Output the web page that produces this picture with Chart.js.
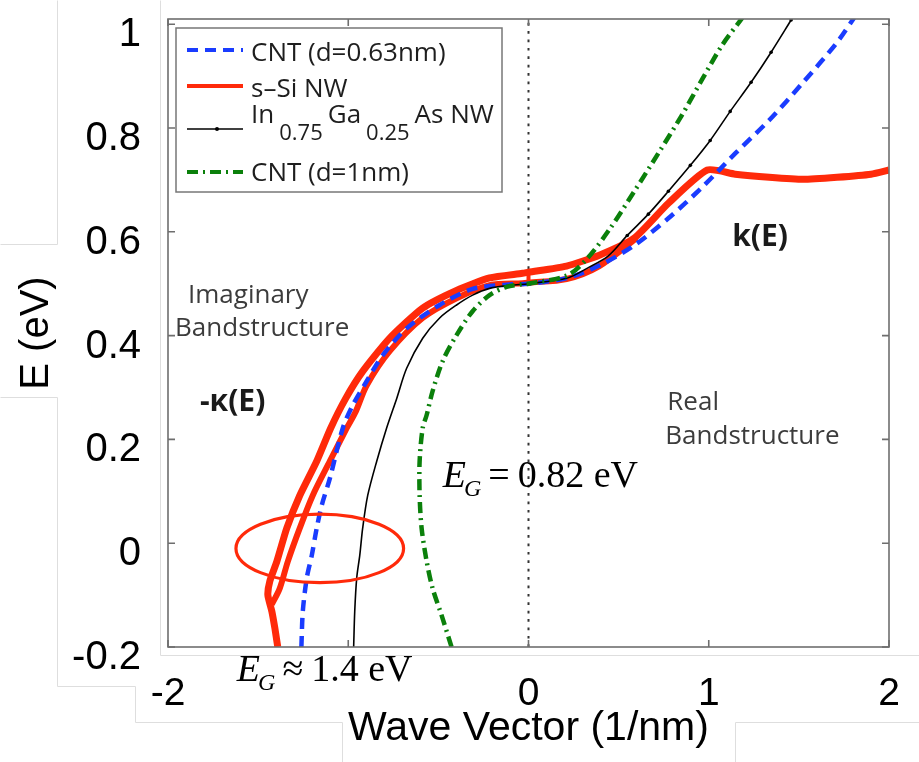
<!DOCTYPE html>
<html>
<head>
<meta charset="utf-8">
<script src="https://cdn.jsdelivr.net/npm/chart.js@4.4.1/dist/chart.umd.min.js"></script>
<style>
  html, body { margin: 0; padding: 0; background: #fff; }
</style>
</head>
<body>
<canvas id="bandChart" width="919" height="762"></canvas>
<script>
//-------------------------------DATA----------------------------------------
// wave vector (1/nm) and energy (eV)
// negative k = imaginary branch (-kappa), positive k = real branch

const cnt063K = [-1.26, -1.252, -1.23, -1.202, -1.175, -1.147, -1.102, -1.03, -0.975, -0.898, -0.809, -0.676, -0.493, -0.31, -0.122, 0, 0.216, 0.399, 0.587, 0.776, 0.964, 1.147, 1.335, 1.524, 1.712, 1.806];
const cnt063E = [-0.2, -0.131, -0.067, -0.023, 0.029, 0.073, 0.125, 0.222, 0.266, 0.312, 0.362, 0.414, 0.459, 0.49, 0.498, 0.5, 0.511, 0.536, 0.574, 0.626, 0.686, 0.751, 0.815, 0.888, 0.965, 1.012];

const siOuterK = [-1.391, -1.407, -1.424, -1.446, -1.435, -1.396, -1.341, -1.269, -1.175, -1.097, -1.014, -0.92, -0.77, -0.587, -0.399, -0.216, -0.033, 0, 0.211, 0.393, 0.587, 0.776, 0.992, 1.147, 1.335, 1.524, 1.712, 1.9, 2.0];
const siOuterE = [-0.2, -0.164, -0.131, -0.1, -0.073, -0.035, 0.029, 0.092, 0.158, 0.222, 0.279, 0.331, 0.395, 0.453, 0.487, 0.511, 0.52, 0.522, 0.534, 0.555, 0.588, 0.655, 0.719, 0.711, 0.705, 0.701, 0.705, 0.711, 0.719];

const siInnerK = [-1.424, -1.38, -1.335, -1.269, -1.197, -1.102, -1.008, -0.958, -0.898, -0.77, -0.587, -0.399, -0.216, -0.033, 0, 0.211, 0.393, 0.6];
const siInnerE = [-0.118, -0.087, -0.035, 0.029, 0.092, 0.158, 0.222, 0.254, 0.304, 0.37, 0.434, 0.472, 0.497, 0.501, 0.502, 0.509, 0.534, 0.588];

const siStepK = [0, 0];
const siStepE = [0.502, 0.522];

const ingaasK = [-0.97, -0.964, -0.953, -0.936, -0.92, -0.892, -0.842, -0.787, -0.731, -0.676, -0.587, -0.493, -0.399, -0.31, -0.216, -0.1, 0, 0.216, 0.327, 0.441, 0.548, 0.665, 0.776, 0.898, 1.008, 1.119, 1.235, 1.346, 1.457];
const ingaasE = [-0.2, -0.131, -0.067, -0.023, 0.029, 0.092, 0.158, 0.222, 0.279, 0.337, 0.395, 0.434, 0.459, 0.478, 0.491, 0.497, 0.5, 0.511, 0.53, 0.553, 0.593, 0.634, 0.678, 0.728, 0.776, 0.832, 0.888, 0.946, 1.008];

const cnt1K = [-0.427, -0.482, -0.532, -0.565, -0.593, -0.604, -0.604, -0.587, -0.565, -0.532, -0.476, -0.399, -0.31, -0.216, -0.122, -0.033, 0, 0.216, 0.327, 0.454, 0.587, 0.72, 0.848, 0.964, 1.075, 1.186];
const cnt1E = [-0.2, -0.139, -0.087, -0.035, 0.029, 0.092, 0.158, 0.222, 0.247, 0.293, 0.351, 0.401, 0.447, 0.478, 0.494, 0.499, 0.5, 0.516, 0.549, 0.607, 0.678, 0.751, 0.823, 0.894, 0.96, 1.012];

const zeroK = [0, 0];
const zeroE = [-0.2, 1.01];

const xTicks = [-2, -1, 0, 1, 2];
const xTickLabels = ['-2', '', '0', '1', '2'];
const yTicks = [-0.2, 0, 0.2, 0.4, 0.6, 0.8, 1];
const yTickLabels = ['-0.2', '0', '0.2', '0.4', '0.6', '0.8', '1'];

//-------------------------------STYLE----------------------------------------

const RED = '#ff2a0a';
const BLUE = '#1a3cff';
const GREEN = '#0b800b';
const SANS = '"Liberation Sans", Arial, sans-serif';
const HUMAN = '"Open Sans", "Noto Sans", sans-serif';
const SERIF = '"Liberation Serif", "Times New Roman", serif';

function pts(ks, es) {
    return ks.map((k, i) => ({ x: k, y: es[i] }));
}

// keep the plot box where the figure has it: no extra room for edge labels
function fixBox(size, prop) {
    return s => {
        s[prop] = size;
        s.paddingTop = 0; s.paddingBottom = 0;
        s.paddingLeft = 0; s.paddingRight = 0;
    };
}

//-------------------------------PLUGIN---------------------------------------

// faint edges of the pasted panels in the original figure
const panelEdges = [
    [[57, 0], [57, 244], [0, 244]],
    [[0, 397], [57, 397], [57, 686], [135, 686], [135, 722], [342, 722], [342, 762]],
    [[735, 762], [735, 722], [919, 722]],
    [[160, 0], [160, 655], [919, 655]]
];

function drawGap(ctx, x, y, rel, value) {
    ctx.font = 'italic 38px ' + SERIF;
    ctx.fillText('E', x, y);
    x += ctx.measureText('E').width - 2;
    ctx.font = 'italic 24px ' + SERIF;
    ctx.fillText('G', x, y + 9);
    x += ctx.measureText('G').width + 7;
    ctx.font = '38px ' + SERIF;
    ctx.fillText(rel, x, y);
    x += ctx.measureText(rel).width + 8;
    ctx.fillText(value, x, y);
}

const decorPlugin = {
    id: 'decor',
    beforeDraw(chart) {
        const ctx = chart.ctx;
        ctx.save();
        ctx.strokeStyle = '#dedede';
        ctx.lineWidth = 1;
        panelEdges.forEach(path => {
            ctx.beginPath();
            path.forEach(([px, py], i) => i ? ctx.lineTo(px + 0.5, py + 0.5) : ctx.moveTo(px + 0.5, py + 0.5));
            ctx.stroke();
        });
        ctx.restore();
    },
    afterDatasetsDraw(chart) {
        const { ctx, chartArea: a, scales: { x, y } } = chart;
        ctx.save();
        ctx.strokeStyle = '#6e6e6e';
        ctx.lineWidth = 1.6;
        ctx.strokeRect(a.left, a.top, a.right - a.left, a.bottom - a.top);
        ctx.beginPath();
        xTicks.forEach(v => {
            const px = x.getPixelForValue(v);
            ctx.moveTo(px, a.bottom); ctx.lineTo(px, a.bottom - 7);
            ctx.moveTo(px, a.top); ctx.lineTo(px, a.top + 7);
        });
        yTicks.forEach(v => {
            const py = y.getPixelForValue(v);
            ctx.moveTo(a.left, py); ctx.lineTo(a.left + 7, py);
            ctx.moveTo(a.right, py); ctx.lineTo(a.right - 7, py);
        });
        ctx.stroke();
        ctx.restore();
    },
    afterDraw(chart) {
        const { ctx, chartArea: a, scales: { x, y } } = chart;
        const at = (k, e) => [x.getPixelForValue(k), y.getPixelForValue(e)];
        ctx.save();

        // red ellipse round the E = 0 crossing
        const [cx, cy] = at(-1.158, -0.01);
        const rx = x.getPixelForValue(-1.158 + 0.465) - cx;
        const ry = cy - y.getPixelForValue(-0.01 + 0.066);
        ctx.strokeStyle = RED;
        ctx.lineWidth = 3.2;
        ctx.beginPath();
        ctx.ellipse(cx, cy, rx, ry, 0, 0, Math.PI * 2);
        ctx.stroke();

        // region labels
        ctx.textBaseline = 'alphabetic';
        ctx.textAlign = 'left';
        ctx.fillStyle = '#3c3c3c';
        ctx.font = '26px ' + HUMAN;
        let p = at(-1.889, 0.462); ctx.fillText('Imaginary', p[0], p[1]);
        p = at(-1.961, 0.399); ctx.fillText('Bandstructure', p[0], p[1]);
        p = at(0.77, 0.256); ctx.fillText('Real', p[0], p[1]);
        p = at(0.759, 0.191); ctx.fillText('Bandstructure', p[0], p[1]);

        ctx.fillStyle = '#1a1a1a';
        ctx.font = 'bold 30px ' + HUMAN;
        p = at(1.13, 0.572); ctx.fillText('k(E)', p[0], p[1]);
        p = at(-1.823, 0.254); ctx.fillText('-\u03ba(E)', p[0], p[1]);

        // band gaps
        ctx.fillStyle = '#000';
        p = at(-0.476, 0.108); drawGap(ctx, p[0], p[1], '=', '0.82 eV');
        p = at(-1.618, -0.266); drawGap(ctx, p[0], p[1], '\u2248', '1.4 eV');

        // legend
        const lx = a.left + 8, ly = a.top + 9;
        ctx.fillStyle = '#fff';
        ctx.fillRect(lx, ly, 326, 164);
        ctx.strokeStyle = '#777';
        ctx.lineWidth = 1.5;
        ctx.strokeRect(lx, ly, 326, 164);

        const byLabel = l => chart.data.datasets.find(d => d.label === l);
        const rows = [
            { ds: byLabel('CNT (d=0.63nm)'), line: 22, parts: [['CNT (d=0.63nm)', 33, 26]] },
            { ds: byLabel('s\u2013Si NW'), line: 58, parts: [['s\u2013Si NW', 69, 26]] },
            { ds: byLabel('In0.75Ga0.25As NW'), line: 101, dot: true,
              parts: [['In', 95, 26], ['0.75', 112, 22], ['Ga', 95, 26], ['0.25', 112, 22], ['As NW', 95, 26]] },
            { ds: byLabel('CNT (d=1nm)'), line: 144, parts: [['CNT (d=1nm)', 153, 26]] }
        ];
        rows.forEach(r => {
            const d = r.ds;
            ctx.strokeStyle = d.borderColor;
            ctx.lineWidth = Math.min(d.borderWidth, 4);
            ctx.setLineDash(d.borderDash || []);
            ctx.beginPath();
            ctx.moveTo(lx + 11, ly + r.line);
            ctx.lineTo(lx + 67, ly + r.line);
            ctx.stroke();
            ctx.setLineDash([]);
            if (r.dot) {
                ctx.fillStyle = d.borderColor;
                ctx.beginPath();
                ctx.arc(lx + 41, ly + r.line, 2, 0, Math.PI * 2);
                ctx.fill();
            }
            ctx.fillStyle = '#1e1e1e';
            let tx = lx + 75;
            r.parts.forEach(([t, base, size]) => {
                ctx.font = size + 'px ' + HUMAN;
                ctx.fillText(t, tx, ly + base);
                tx += ctx.measureText(t).width + 5;
            });
        });
        ctx.restore();
    }
};

//-------------------------------CHART----------------------------------------

const ctx = document.getElementById('bandChart').getContext('2d');
const bandChart = new Chart(ctx, {
    type: 'scatter',
    data: {
        datasets: [
            {
                label: 'CNT (d=1nm)',
                data: pts(cnt1K, cnt1E),
                borderColor: GREEN, borderWidth: 4.5, borderDash: [11, 5, 2, 5],
                showLine: true, tension: 0.3, pointRadius: 0
            },
            {
                label: 'In0.75Ga0.25As NW',
                data: pts(ingaasK, ingaasE),
                borderColor: '#000', borderWidth: 1.6,
                showLine: true, tension: 0.3,
                pointRadius: c => (c.raw && c.raw.x > 0.5) ? 1.8 : 0,
                pointBackgroundColor: '#000', pointBorderWidth: 0
            },
            {
                label: 'CNT (d=0.63nm)',
                data: pts(cnt063K, cnt063E),
                borderColor: BLUE, borderWidth: 4.5, borderDash: [11, 7],
                showLine: true, tension: 0.3, pointRadius: 0
            },
            {
                label: 's\u2013Si NW',
                data: pts(siOuterK, siOuterE),
                borderColor: RED, borderWidth: 7,
                showLine: true, tension: 0.2, pointRadius: 0
            },
            {
                label: '',
                data: pts(siInnerK, siInnerE),
                borderColor: RED, borderWidth: 6,
                showLine: true, tension: 0.3, pointRadius: 0
            },
            {
                label: '',
                data: pts(siStepK, siStepE),
                borderColor: RED, borderWidth: 4,
                showLine: true, pointRadius: 0
            },
            {
                label: '',
                data: pts(zeroK, zeroE),
                borderColor: '#333', borderWidth: 2, borderDash: [2.7, 5.7],
                showLine: true, pointRadius: 0
            }
        ]
    },
    options: {
        responsive: false,
        animation: false,
        events: [],
        layout: { padding: { top: 19, right: 30, left: 0, bottom: 0 } },
        elements: { line: { borderCapStyle: 'butt', borderJoinStyle: 'round' } },
        plugins: {
            legend: { display: false },
            tooltip: { enabled: false }
        },
        scales: {
            x: {
                type: 'linear', min: -2, max: 2,
                grid: { display: false, drawTicks: false },
                border: { display: false },
                afterBuildTicks: s => { s.ticks = xTicks.map(v => ({ value: v })); },
                afterFit: fixBox(115, 'height'),
                ticks: {
                    callback: (v, i) => xTickLabels[i],
                    font: { family: SANS, size: 39 }, color: '#000', padding: 24
                },
                title: {
                    display: true, text: 'Wave Vector (1/nm)',
                    font: { family: SANS, size: 41 }, color: '#000',
                    padding: { top: 0, bottom: 9 }
                }
            },
            y: {
                type: 'linear', min: -0.2, max: 1.01,
                grid: { display: false, drawTicks: false },
                border: { display: false },
                afterBuildTicks: s => { s.ticks = yTicks.map(v => ({ value: v })); },
                afterFit: fixBox(168, 'width'),
                ticks: {
                    callback: (v, i) => yTickLabels[i],
                    font: { family: SANS, size: 40 }, color: '#000', padding: 27,
                    labelOffset: 11
                },
                title: {
                    display: true, text: 'E (eV)',
                    font: { family: SANS, size: 40 }, color: '#000',
                    padding: { top: 13, bottom: 0 }
                }
            }
        }
    },
    plugins: [decorPlugin]
});
</script>
</body>
</html>
